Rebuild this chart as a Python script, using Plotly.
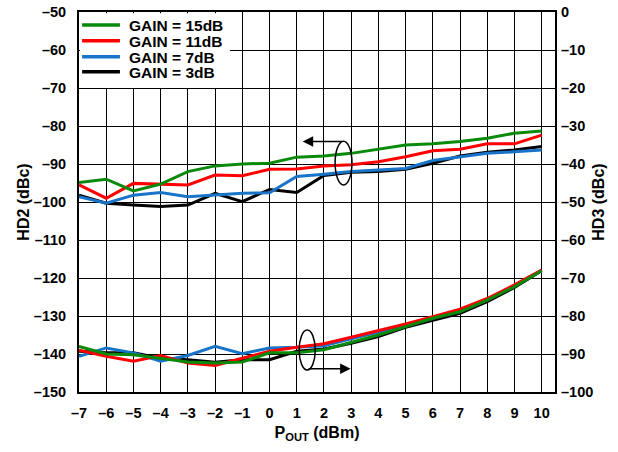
import plotly.graph_objects as go

# P_OUT (dBm)
pout = [-7, -6, -5, -4, -3, -2, -1, 0, 1, 2, 3, 4, 5, 6, 7, 8, 9, 10]

# HD2 (dBc), left axis
hd2_15db = [-94.9, -94.0, -97.1, -95.3, -92.0, -90.5, -90.0, -89.8, -88.2, -87.9,
            -87.2, -86.1, -85.0, -84.7, -84.1, -83.2, -81.9, -81.3]
hd2_11db = [-95.5, -99.0, -95.1, -95.3, -95.5, -92.9, -93.1, -91.4, -91.3, -90.5,
            -90.2, -89.4, -88.1, -86.5, -86.1, -84.7, -84.7, -82.4]
hd2_7db = [-98.6, -100.3, -98.2, -97.5, -98.6, -98.2, -97.7, -97.6, -93.3, -92.7,
           -92.0, -91.6, -91.2, -89.1, -88.1, -87.2, -86.8, -86.3]
hd2_3db = [-98.2, -100.3, -100.8, -101.2, -100.8, -97.7, -99.9, -96.7, -97.5, -93.0,
           -92.2, -92.0, -91.4, -89.8, -87.9, -86.9, -86.3, -85.4]

# HD3 (dBc), right axis
hd3_15db = [-88.0, -90.0, -90.2, -91.1, -92.1, -92.4, -92.1, -89.7, -89.7, -88.9,
            -87.0, -85.0, -82.8, -80.6, -78.9, -75.8, -72.3, -68.1]
hd3_11db = [-89.0, -90.6, -91.9, -90.4, -92.4, -93.0, -91.1, -89.3, -88.2, -87.3,
            -85.6, -83.9, -82.1, -80.2, -78.2, -75.4, -71.8, -67.9]
hd3_7db = [-90.6, -88.4, -89.7, -91.9, -90.4, -88.0, -89.9, -88.4, -88.2, -87.8,
           -86.0, -84.3, -82.5, -80.6, -78.6, -75.7, -72.0, -68.0]
hd3_3db = [-89.3, -89.7, -89.7, -91.1, -91.5, -92.2, -91.5, -91.5, -89.3, -88.7,
           -87.2, -85.4, -83.0, -81.1, -79.3, -76.2, -72.5, -68.1]

gain_names = ['GAIN = 3dB', 'GAIN = 7dB', 'GAIN = 11dB', 'GAIN = 15dB']
colors = ['#000000', '#1874c8', '#ff0000', '#0a8a0a']

hd2_ticks = [-50, -60, -70, -80, -90, -100, -110, -120, -130, -140, -150]
hd3_ticks = [0, -10, -20, -30, -40, -50, -60, -70, -80, -90, -100]


def lbl(v):
    return str(v).replace('-', '\u2013')


fig = go.Figure()

hd2_sets = [hd2_3db, hd2_7db, hd2_11db, hd2_15db]
hd3_sets = [hd3_3db, hd3_7db, hd3_11db, hd3_15db]

# HD3 curves first, then HD2 (green ends up on top)
for name, col, ys in zip(gain_names, colors, hd3_sets):
    fig.add_trace(go.Scatter(x=pout, y=ys, mode='lines', yaxis='y2', name=name,
                             line=dict(color=col, width=3), showlegend=False))

for name, col, ys in zip(gain_names, colors, hd2_sets):
    fig.add_trace(go.Scatter(x=pout, y=ys, mode='lines', name=name,
                             line=dict(color=col, width=3), showlegend=False))

# legend drawn by hand so the rows can sit as tight as the original
fig.add_shape(type='rect', xref='paper', yref='paper', x0=0.002, x1=0.317, y0=0.8, y1=0.997,
              fillcolor='white', line=dict(width=0), layer='above')
legend_rows = [0.9658, 0.9245, 0.8824, 0.8429]
for name, col, yy in zip(gain_names[::-1], colors[::-1], legend_rows):
    fig.add_shape(type='line', xref='paper', yref='paper', x0=0.0065, x1=0.086, y0=yy, y1=yy,
                  line=dict(color=col, width=3.5), layer='above')
    fig.add_annotation(x=0.101, y=yy, xref='paper', yref='paper', text='<b>%s</b>' % name,
                       showarrow=False, xanchor='left', yanchor='middle', height=14,
                       font=dict(size=15.5, color='black'))

# ellipses marking which group goes with which axis
fig.add_shape(type='circle', xref='x', yref='y', x0=2.41, x1=3.03, y0=-95.5, y1=-84.0,
              line=dict(color='black', width=1.5))
fig.add_shape(type='circle', xref='x', yref='y', x0=1.09, x1=1.68, y0=-144.2, y1=-133.7,
              line=dict(color='black', width=1.5))

fig.add_annotation(x=1.22, y=-84.1, ax=2.72, ay=-84.1, xref='x', yref='y',
                   axref='x', ayref='y', text='', showarrow=True,
                   arrowhead=2, arrowsize=1.4, arrowwidth=1.5, arrowcolor='black')
fig.add_annotation(x=2.98, y=-143.9, ax=1.38, ay=-143.9, xref='x', yref='y',
                   axref='x', ayref='y', text='', showarrow=True,
                   arrowhead=2, arrowsize=1.4, arrowwidth=1.5, arrowcolor='black')

tick_font = dict(family='Liberation Sans, Arial, sans-serif', size=14.5, color='black', weight='bold')
title_font = dict(family='Liberation Sans, Arial, sans-serif', size=16, color='black')

fig.update_layout(
    width=618, height=452,
    margin=dict(l=79, r=63, t=12, b=60),
    plot_bgcolor='white', paper_bgcolor='white',
    font=dict(family='Liberation Sans, Arial, sans-serif', size=14, color='black'),
    showlegend=False,
    xaxis=dict(range=[-7, 10.49], tickvals=pout, ticktext=[lbl(v) for v in pout],
               tickfont=tick_font, showgrid=True, gridcolor='black', gridwidth=1.3,
               showline=True, linecolor='black', linewidth=2, mirror=True,
               zeroline=False, ticks='', ticklabelstandoff=7, automargin=False,
               title=dict(text='<b>P<sub>OUT</sub> (dBm)</b>', font=title_font, standoff=6)),
    yaxis=dict(range=[-150, -50], tickvals=hd2_ticks, ticktext=[lbl(v) for v in hd2_ticks],
               tickfont=tick_font, showgrid=True, gridcolor='black', gridwidth=1.3,
               showline=True, linecolor='black', linewidth=2, mirror=True,
               zeroline=False, ticks='', ticklabelstandoff=8, automargin=False,
               title=dict(text='<b>HD2 (dBc)</b>', font=title_font, standoff=0)),
    yaxis2=dict(range=[-100, 0], overlaying='y', side='right',
                tickvals=hd3_ticks, ticktext=[lbl(v) for v in hd3_ticks],
                tickfont=tick_font, showgrid=False, zeroline=False, ticks='',
                ticklabelstandoff=5, automargin=False,
                title=dict(text='<b>HD3 (dBc)</b>', font=title_font, standoff=0)),
)

# drop the page's default 8px body margin so the figure fills the window
fig.write_html("out.html", config={'displayModeBar': False},
               post_script="document.body.style.margin='0';")
